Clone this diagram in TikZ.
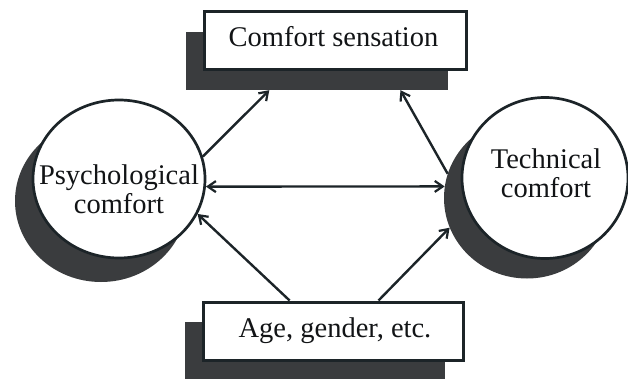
\documentclass[tikz,border=0pt]{standalone}
\usepackage{fontspec}
\setmainfont{Liberation Serif}
\usetikzlibrary{arrows.meta,calc,shapes.geometric}
\definecolor{linec}{RGB}{28,36,40}
\definecolor{shadowc}{RGB}{58,60,62}
\definecolor{textc}{RGB}{18,20,22}
\begin{document}
\begin{tikzpicture}[x=1pt,y=-1pt,
  boxnode/.style={draw=linec,line width=3pt,fill=white,minimum height=58pt,inner sep=0pt},
  boxshadow/.style={fill=shadowc,draw=none,minimum height=58pt,inner sep=0pt},
  ellnode/.style={ellipse,draw=linec,line width=2.7pt,fill=white,inner sep=0pt},
  ellshadow/.style={ellipse,fill=shadowc,draw=none,inner sep=0pt},
  label/.style={text=textc,align=center,inner sep=0pt,font=\fontsize{28.5}{29}\selectfont},
  arr/.style={draw=linec,line width=2.4pt,-{Straight Barb[length=8pt,width=11pt,line width=2.2pt]}},
  darr/.style={draw=linec,line width=2.4pt,{Straight Barb[length=8pt,width=11pt,line width=2.2pt]}-{Straight Barb[length=8pt,width=11pt,line width=2.2pt]}}
]
\fill[white] (0,0) rectangle (628,379);
\useasboundingbox (0,0) rectangle (628,379);

% shadows
\node[boxshadow,minimum width=262pt] (topS) at (316.5,61) {};
\node[boxshadow,minimum width=260pt] (ageS) at (315,351) {};
\node[ellshadow,minimum width=172pt,minimum height=162pt] (psyS) at (101,201) {};
\node[ellshadow,minimum width=166pt,minimum height=161pt] (techS) at (527,198) {};

% main shapes
\node[boxnode,minimum width=262pt] (top) at (335.5,41) {};
\node[boxnode,minimum width=260pt] (age) at (333,331) {};
\node[ellnode,minimum width=172pt,minimum height=158pt] (psy) at (119,179) {};
\node[ellnode,minimum width=166pt,minimum height=161pt] (tech) at (545,178) {};

% texts
\node[label] (topT) at ($(top.center)+(-2,-4)$) {Comfort sensation};
\node[label] (ageT) at ($(age.center)+(2,0)$) {Age, gender, etc.};
\node[label] (psyT) at ($(psy.center)+(0,10)$) {Psychological\\comfort};
\node[label] (techT) at ($(tech.center)+(1,-5)$) {Technical\\comfort};

% connectors
\draw[arr] (psy.15) -- ($(topS.south west)!0.32!(topS.south east)$);
\draw[arr] (techS.163) -- ($(topS.south west)!0.82!(topS.south east)$);
\draw[darr] (psy.-5) -- (techS.172);
\draw[arr] ($(age.north west)!0.335!(age.north east)$) -- (psy.-24);
\draw[arr] ($(age.north west)!0.673!(age.north east)$) -- (techS.201);
\end{tikzpicture}
\end{document}
